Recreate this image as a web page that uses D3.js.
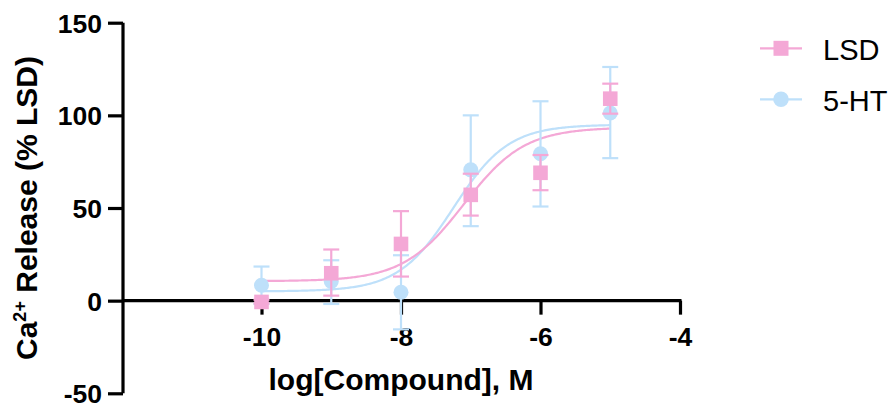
<!DOCTYPE html>
<html>
<head>
<meta charset="utf-8">
<script src="https://cdn.jsdelivr.net/npm/d3@7"></script>
<style>
  body { margin: 0; background: #fff; }
  svg { display: block; font-family: "Liberation Sans", Arial, sans-serif; }
</style>
</head>
<body>
<svg id="chart" width="890" height="403"></svg>
<script>
// Concentrations (log M) and responses (% of LSD max), mean with error bounds
const logConc = [-10, -9, -8, -7, -6, -5];

const lsdMean  = [-0.7, 14.8, 30.6, 57.1, 69.0, 109.0];
const lsdUpper = [0.5, 27.6, 48.3, 68.5, 78.6, 117.1];
const lsdLower = [-1.5, 2.7, 13.0, 45.9, 59.6, 100.9];

const htMean  = [8.3, 10.4, 4.5, 70.6, 79.3, 101.3];
const htUpper = [18.4, 21.8, 24.5, 100.0, 107.6, 126.1];
const htLower = [-1.8, -1.8, -15.5, 40.2, 50.8, 76.9];

// Four-parameter logistic fit parameters: bottom, top, logEC50, Hill slope
const lsdFit = [10.5, 93.5, -7.1, 1.0];
const htFit  = [5.0, 95.0, -7.25, 1.1];

const xTicks = [-10, -8, -6, -4];
const yTicks = [-50, 0, 50, 100, 150];

const seriesNames = ["LSD", "5-HT"];
const seriesColors = ["#F4A8D6", "#BEE0FA"];

const svg = d3.select("#chart");

const x = d3.scaleLinear().domain([-12, -4]).range([122, 680]);
const y = d3.scaleLinear().domain([-50, 150]).range([393.3, 22.7]);

const black = "#000";
const fmt = d => d3.format("d")(d).replace("\u2212", "-");

// Y axis
const yAxis = svg.append("g").attr("transform", `translate(${x(-12) + 1},0)`)
  .call(d3.axisLeft(y).tickValues(yTicks).tickSize(15).tickPadding(6).tickFormat(fmt));
yAxis.select(".domain").attr("stroke", black).attr("stroke-width", 3.2)
  .attr("d", `M0,${y(-50)}V${y(150)}`);
yAxis.selectAll(".tick line").attr("stroke", black).attr("stroke-width", 3.2);
yAxis.selectAll(".tick text").attr("fill", black).attr("font-size", 26.5).attr("font-weight", "bold")
  .attr("font-family", "Liberation Sans, Arial, sans-serif").attr("dy", "0.36em");

// X axis sits at y = 0
const xAxis = svg.append("g").attr("transform", `translate(0,${y(0)})`)
  .call(d3.axisBottom(x).tickValues(xTicks).tickSize(14).tickPadding(13).tickFormat(fmt));
xAxis.select(".domain").attr("stroke", black).attr("stroke-width", 3.2)
  .attr("d", `M${x(-12)},0H${x(-4) + 1.5}`);
xAxis.selectAll(".tick line").attr("stroke", black).attr("stroke-width", 3.2);
xAxis.selectAll(".tick text").attr("fill", black).attr("font-size", 26.5).attr("font-weight", "bold")
  .attr("font-family", "Liberation Sans, Arial, sans-serif");

// Axis titles
svg.append("text").attr("x", 401).attr("y", 390).attr("text-anchor", "middle")
  .attr("font-size", 30).attr("font-weight", "bold").attr("fill", black)
  .text("log[Compound], M");

const yTitle = svg.append("text")
  .attr("transform", `translate(37,${(y(-50) + y(150)) / 2}) rotate(-90)`)
  .attr("text-anchor", "middle").attr("font-size", 30).attr("font-weight", "bold").attr("fill", black);
yTitle.append("tspan").text("Ca");
yTitle.append("tspan").attr("font-size", 18).attr("dy", -11).text("2+");
yTitle.append("tspan").attr("dy", 11).text(" Release (% LSD)");

// Fitted curves
function logistic(p, v) {
  const [b, t, ec, h] = p;
  return b + (t - b) / (1 + Math.pow(10, (ec - v) * h));
}
const curveXs = d3.range(-10, -5 + 1e-9, 0.02);
const line = d3.line().x(d => x(d[0])).y(d => y(d[1]));

const series = [
  { name: "5-HT", color: seriesColors[1], mean: htMean, upper: htUpper, lower: htLower, fit: htFit, shape: "circle" },
  { name: "LSD", color: seriesColors[0], mean: lsdMean, upper: lsdUpper, lower: lsdLower, fit: lsdFit, shape: "square" }
];

series.forEach(s => {
  svg.append("path")
    .attr("d", line(curveXs.map(v => [v, logistic(s.fit, v)])))
    .attr("fill", "none").attr("stroke", s.color).attr("stroke-width", 2.2);
});

const capW = 8;
series.forEach(s => {
  const g = svg.append("g");
  logConc.forEach((c, i) => {
    const cx = x(c);
    g.append("line").attr("x1", cx).attr("x2", cx).attr("y1", y(s.upper[i])).attr("y2", y(s.lower[i]))
      .attr("stroke", s.color).attr("stroke-width", 2.2);
    [s.upper[i], s.lower[i]].forEach(v => {
      g.append("line").attr("x1", cx - capW).attr("x2", cx + capW).attr("y1", y(v)).attr("y2", y(v))
        .attr("stroke", s.color).attr("stroke-width", 2.2);
    });
  });
  logConc.forEach((c, i) => {
    if (s.shape === "circle") {
      g.append("circle").attr("cx", x(c)).attr("cy", y(s.mean[i])).attr("r", 7.5).attr("fill", s.color);
    } else {
      g.append("rect").attr("x", x(c) - 7.3).attr("y", y(s.mean[i]) - 7.3)
        .attr("width", 14.6).attr("height", 14.6).attr("fill", s.color);
    }
  });
});

// Legend
const legend = svg.append("g");
seriesNames.forEach((name, i) => {
  const ly = 48.3 + i * 51;
  const color = seriesColors[i];
  legend.append("line").attr("x1", 760).attr("x2", 802).attr("y1", ly).attr("y2", ly)
    .attr("stroke", color).attr("stroke-width", 2.2);
  if (i === 0) {
    legend.append("rect").attr("x", 781 - 7.5).attr("y", ly - 7.5).attr("width", 15).attr("height", 15).attr("fill", color);
  } else {
    legend.append("circle").attr("cx", 781).attr("cy", ly).attr("r", 7.8).attr("fill", color);
  }
  legend.append("text").attr("x", 823).attr("y", ly + 11.5).attr("font-size", 29).attr("fill", black).text(name);
});
</script>
</body>
</html>
